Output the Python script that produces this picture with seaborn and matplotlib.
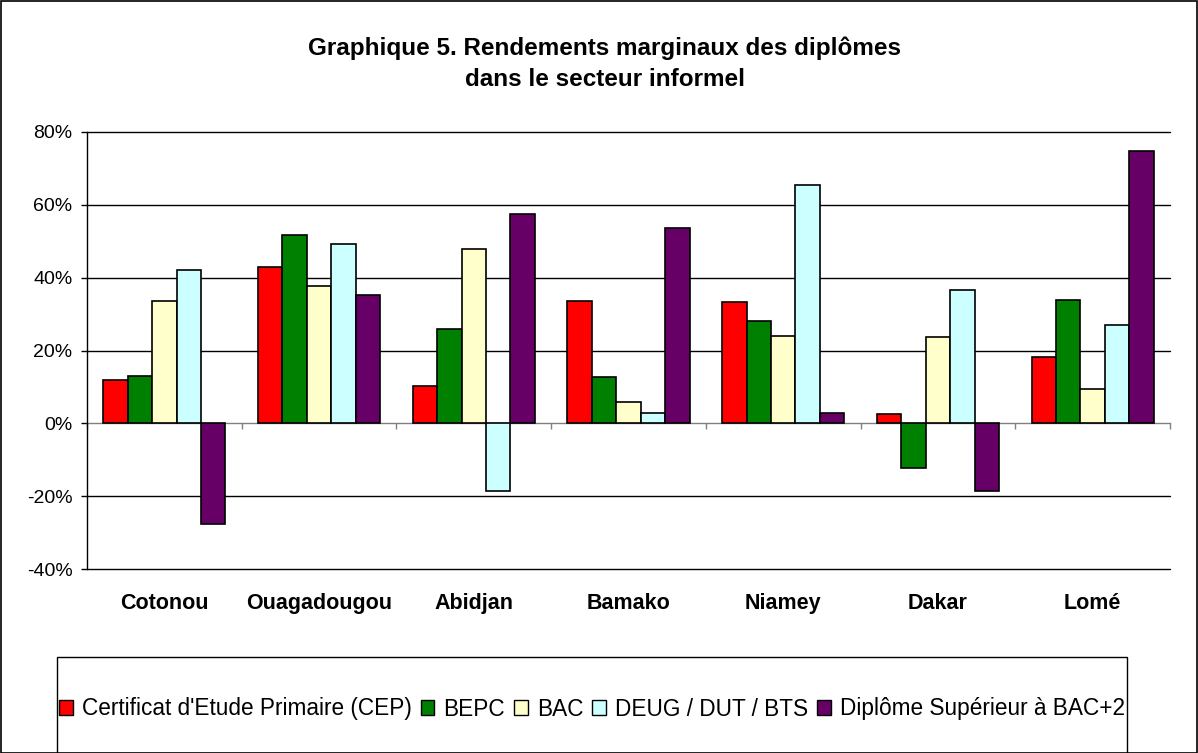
import matplotlib
matplotlib.use('Agg')
from matplotlib import pyplot as plt
from matplotlib.patches import Rectangle, Patch
from matplotlib.ticker import PercentFormatter, FixedLocator, NullFormatter
import numpy as np
import pandas as pd
import seaborn as sns

# villes et diplômes
villes = ['Cotonou', 'Ouagadougou', 'Abidjan', 'Bamako', 'Niamey', 'Dakar', 'Lomé']
diplomes = ["Certificat d'Etude Primaire (CEP)", 'BEPC', 'BAC',
            'DEUG / DUT / BTS', 'Diplôme Supérieur à BAC+2']

# rendements marginaux (%), une liste par diplôme
cep = [11.9, 42.8, 10.2, 33.5, 33.2, 2.6, 18.3]
bepc = [13.1, 51.8, 25.9, 12.8, 28.0, -12.3, 33.9]
bac = [33.5, 37.8, 48.0, 5.9, 24.1, 23.8, 9.4]
deug = [42.0, 49.3, -18.7, 2.9, 65.4, 36.5, 27.1]
sup_bac2 = [-27.7, 35.3, 57.4, 53.6, 2.9, -18.7, 74.8]

couleurs = ['#FF0000', '#008000', '#FFFFCC', '#CCFFFF', '#660066']

rows = []
for nom, vals in zip(diplomes, [cep, bepc, bac, deug, sup_bac2]):
    for v, val in zip(villes, vals):
        rows.append({'ville': v, 'diplome': nom, 'rendement': val})
df = pd.DataFrame(rows)

sns.set_style('white')
plt.rcParams['font.family'] = ['Liberation Sans', 'DejaVu Sans']
plt.rcParams['text.color'] = 'black'
plt.rcParams['xtick.color'] = 'black'
plt.rcParams['ytick.color'] = 'black'
plt.rcParams['axes.unicode_minus'] = False

fig = plt.figure(figsize=(11.98, 7.53), dpi=100)
ax = fig.add_axes([87 / 1198, 1 - 569 / 753, (1170 - 87) / 1198, (569 - 132) / 753])

sns.barplot(data=df, x='ville', y='rendement', hue='diplome', order=villes,
            hue_order=diplomes, palette=couleurs, width=0.79, saturation=1,
            edgecolor='black', linewidth=1.2, legend=False, ax=ax, zorder=3)

ax.set_ylim(-40, 80)
ax.set_xlim(-0.5, len(villes) - 0.5)
ax.set_yticks(np.arange(-40, 81, 20))
ax.yaxis.set_major_formatter(PercentFormatter(decimals=0))
for y in np.arange(-40, 81, 20):
    if y != 0:
        ax.axhline(y, color='black', lw=1.0, zorder=1, clip_on=False)

for s in ['top', 'right']:
    ax.spines[s].set_visible(False)
ax.spines['left'].set_color('black')
ax.spines['left'].set_linewidth(1.0)
ax.spines['bottom'].set_position(('data', 0))
ax.spines['bottom'].set_color('#808080')
ax.spines['bottom'].set_linewidth(1.0)
ax.spines['bottom'].set_zorder(2)

ax.set_xlabel('')
ax.set_ylabel('')
ax.tick_params(axis='y', direction='out', length=4.5, width=1, color='black',
               labelsize=14, pad=6, left=True)
# axe des catégories sur la ligne 0 : seulement les petites graduations
ax.xaxis.set_major_formatter(NullFormatter())
ax.tick_params(axis='x', which='major', length=0)
ax.xaxis.set_minor_locator(FixedLocator(np.arange(-0.5, len(villes), 1.0)))
ax.tick_params(axis='x', which='minor', direction='out', length=4.5, width=1,
               color='#808080', bottom=True)

# noms des villes sous la zone de tracé
sec = ax.secondary_xaxis(0.0)
sec.set_xticks(range(len(villes)))
sec.set_xticklabels(villes, fontweight='bold', fontsize=15.5)
sec.tick_params(axis='x', length=0, pad=17)
sec.spines['bottom'].set_visible(False)

fig.text(605 / 1198, 1 - 48 / 753, 'Graphique 5. Rendements marginaux des diplômes',
         ha='center', va='center', fontsize=17.5, fontweight='bold')
fig.text(605 / 1198, 1 - 79 / 753, 'dans le secteur informel',
         ha='center', va='center', fontsize=17.5, fontweight='bold')

# cadre extérieur et cadre de légende
fig.patches.append(Rectangle((0.5 / 1198, 0.5 / 753), 1196.5 / 1198, 751.5 / 753,
                             transform=fig.transFigure, fill=False,
                             edgecolor='black', lw=1.2))
fig.patches.append(Rectangle((57 / 1198, -0.01), (1127 - 57) / 1198, 1 - 657 / 753 + 0.01,
                             transform=fig.transFigure, fill=False,
                             edgecolor='black', lw=1.0))

handles = [Patch(facecolor=c, edgecolor='black', lw=1) for c in couleurs]
fig.legend(handles, diplomes, loc='center', bbox_to_anchor=(592 / 1198, 1 - 709 / 753),
           ncol=5, frameon=False, handlelength=0.6, handleheight=0.6,
           handletextpad=0.4, columnspacing=0.4, borderpad=0,
           prop={'family': ['Liberation Sans', 'DejaVu Sans'], 'size': 16.3})

fig.savefig('out.png', dpi=100)
